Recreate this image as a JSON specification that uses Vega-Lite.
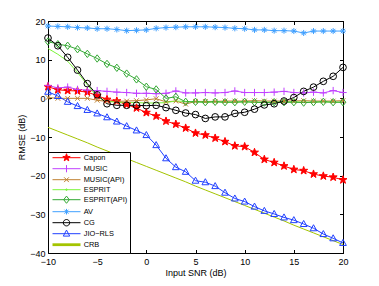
{
"$schema": "https://vega.github.io/schema/vega-lite/v6.json",
"width": 295, "height": 232,
"autosize": {"type": "none"},
"padding": {"left": 48, "top": 21, "right": 36, "bottom": 33},
"background": "white",
"config": {
 "font": "Liberation Sans",
 "view": {"stroke": "black", "strokeWidth": 1},
 "axis": {"grid": false, "domainColor": "black", "domainWidth": 1, "tickColor": "black", "tickSize": -3.5, "tickWidth": 1, "labelColor": "black", "labelFontSize": 9, "labelFont": "Liberation Sans", "titleFont": "Liberation Sans", "titleColor": "black", "titleFontSize": 9, "titleFontWeight": "normal", "labelFlush": false, "labelOverlap": false}
},
"data": {"values": [
{"s":"Capon","x":-10,"y":3.0},{"s":"Capon","x":-9,"y":2.2},{"s":"Capon","x":-8,"y":2.0},{"s":"Capon","x":-7,"y":1.9},{"s":"Capon","x":-6,"y":1.6},{"s":"Capon","x":-5,"y":0.7},{"s":"Capon","x":-4,"y":-0.3},{"s":"Capon","x":-3,"y":-0.7},{"s":"Capon","x":-2,"y":-1.6},{"s":"Capon","x":-1,"y":-2.5},{"s":"Capon","x":0,"y":-3.7},{"s":"Capon","x":1,"y":-4.6},{"s":"Capon","x":2,"y":-5.9},{"s":"Capon","x":3,"y":-6.7},{"s":"Capon","x":4,"y":-7.7},{"s":"Capon","x":5,"y":-9.0},{"s":"Capon","x":6,"y":-9.5},{"s":"Capon","x":7,"y":-10.3},{"s":"Capon","x":8,"y":-11.2},{"s":"Capon","x":9,"y":-12.3},{"s":"Capon","x":10,"y":-12.5},{"s":"Capon","x":11,"y":-14.0},{"s":"Capon","x":12,"y":-15.8},{"s":"Capon","x":13,"y":-16.6},{"s":"Capon","x":14,"y":-17.5},{"s":"Capon","x":15,"y":-18.4},{"s":"Capon","x":16,"y":-18.7},{"s":"Capon","x":17,"y":-19.6},{"s":"Capon","x":18,"y":-20.1},{"s":"Capon","x":19,"y":-20.4},{"s":"Capon","x":20,"y":-21.1},
{"s":"MUSIC","x":-10,"y":3.3},{"s":"MUSIC","x":-9,"y":2.7},{"s":"MUSIC","x":-8,"y":2.9},{"s":"MUSIC","x":-7,"y":2.3},{"s":"MUSIC","x":-6,"y":2.1},{"s":"MUSIC","x":-5,"y":2.0},{"s":"MUSIC","x":-4,"y":1.8},{"s":"MUSIC","x":-3,"y":1.6},{"s":"MUSIC","x":-2,"y":1.5},{"s":"MUSIC","x":-1,"y":1.3},{"s":"MUSIC","x":0,"y":1.3},{"s":"MUSIC","x":1,"y":1.2},{"s":"MUSIC","x":2,"y":1.3},{"s":"MUSIC","x":3,"y":1.9},{"s":"MUSIC","x":4,"y":1.4},{"s":"MUSIC","x":5,"y":1.4},{"s":"MUSIC","x":6,"y":1.5},{"s":"MUSIC","x":7,"y":1.4},{"s":"MUSIC","x":8,"y":1.5},{"s":"MUSIC","x":9,"y":1.9},{"s":"MUSIC","x":10,"y":1.5},{"s":"MUSIC","x":11,"y":1.5},{"s":"MUSIC","x":12,"y":1.5},{"s":"MUSIC","x":13,"y":1.6},{"s":"MUSIC","x":14,"y":1.8},{"s":"MUSIC","x":15,"y":1.5},{"s":"MUSIC","x":16,"y":1.4},{"s":"MUSIC","x":17,"y":1.6},{"s":"MUSIC","x":18,"y":1.4},{"s":"MUSIC","x":19,"y":2.0},{"s":"MUSIC","x":20,"y":1.5},
{"s":"MUSIC(API)","x":-10,"y":0.2},{"s":"MUSIC(API)","x":-9,"y":0.0},{"s":"MUSIC(API)","x":-8,"y":0.0},{"s":"MUSIC(API)","x":-7,"y":0.0},{"s":"MUSIC(API)","x":-6,"y":0.0},{"s":"MUSIC(API)","x":-5,"y":-0.5},{"s":"MUSIC(API)","x":-4,"y":-0.8},{"s":"MUSIC(API)","x":-3,"y":-0.8},{"s":"MUSIC(API)","x":-2,"y":-0.7},{"s":"MUSIC(API)","x":-1,"y":-0.6},{"s":"MUSIC(API)","x":0,"y":-0.4},{"s":"MUSIC(API)","x":1,"y":-0.1},{"s":"MUSIC(API)","x":2,"y":-0.9},{"s":"MUSIC(API)","x":3,"y":-0.7},{"s":"MUSIC(API)","x":4,"y":-1.5},{"s":"MUSIC(API)","x":5,"y":-0.8},{"s":"MUSIC(API)","x":6,"y":-0.8},{"s":"MUSIC(API)","x":7,"y":-0.8},{"s":"MUSIC(API)","x":8,"y":-0.7},{"s":"MUSIC(API)","x":9,"y":-0.7},{"s":"MUSIC(API)","x":10,"y":-0.7},{"s":"MUSIC(API)","x":11,"y":-0.6},{"s":"MUSIC(API)","x":12,"y":-0.7},{"s":"MUSIC(API)","x":13,"y":-0.7},{"s":"MUSIC(API)","x":14,"y":-0.7},{"s":"MUSIC(API)","x":15,"y":-0.7},{"s":"MUSIC(API)","x":16,"y":-0.6},{"s":"MUSIC(API)","x":17,"y":-0.7},{"s":"MUSIC(API)","x":18,"y":-0.7},{"s":"MUSIC(API)","x":19,"y":-0.7},{"s":"MUSIC(API)","x":20,"y":-0.6},
{"s":"ESPRIT","x":-10,"y":12.9},{"s":"ESPRIT","x":-9,"y":11.4},{"s":"ESPRIT","x":-8,"y":9.6},{"s":"ESPRIT","x":-7,"y":6.7},{"s":"ESPRIT","x":-6,"y":3.5},{"s":"ESPRIT","x":-5,"y":0.4},{"s":"ESPRIT","x":-4,"y":-0.8},{"s":"ESPRIT","x":-3,"y":-1.0},{"s":"ESPRIT","x":-2,"y":-1.1},{"s":"ESPRIT","x":-1,"y":-1.1},{"s":"ESPRIT","x":0,"y":-1.2},{"s":"ESPRIT","x":1,"y":-1.2},{"s":"ESPRIT","x":2,"y":-1.1},{"s":"ESPRIT","x":3,"y":-0.7},{"s":"ESPRIT","x":4,"y":-0.8},{"s":"ESPRIT","x":5,"y":-0.9},{"s":"ESPRIT","x":6,"y":-1.0},{"s":"ESPRIT","x":7,"y":-0.9},{"s":"ESPRIT","x":8,"y":-1.0},{"s":"ESPRIT","x":9,"y":-1.0},{"s":"ESPRIT","x":10,"y":-0.9},{"s":"ESPRIT","x":11,"y":-1.0},{"s":"ESPRIT","x":12,"y":-1.0},{"s":"ESPRIT","x":13,"y":-1.0},{"s":"ESPRIT","x":14,"y":-1.0},{"s":"ESPRIT","x":15,"y":-0.9},{"s":"ESPRIT","x":16,"y":-1.0},{"s":"ESPRIT","x":17,"y":-1.0},{"s":"ESPRIT","x":18,"y":-0.9},{"s":"ESPRIT","x":19,"y":-1.0},{"s":"ESPRIT","x":20,"y":-1.0},
{"s":"ESPRIT(API)","x":-10,"y":14.7},{"s":"ESPRIT(API)","x":-9,"y":14.0},{"s":"ESPRIT(API)","x":-8,"y":13.6},{"s":"ESPRIT(API)","x":-7,"y":12.7},{"s":"ESPRIT(API)","x":-6,"y":11.5},{"s":"ESPRIT(API)","x":-5,"y":10.3},{"s":"ESPRIT(API)","x":-4,"y":8.9},{"s":"ESPRIT(API)","x":-3,"y":7.9},{"s":"ESPRIT(API)","x":-2,"y":6.4},{"s":"ESPRIT(API)","x":-1,"y":4.9},{"s":"ESPRIT(API)","x":0,"y":3.0},{"s":"ESPRIT(API)","x":1,"y":2.3},{"s":"ESPRIT(API)","x":2,"y":0.0},{"s":"ESPRIT(API)","x":3,"y":0.4},{"s":"ESPRIT(API)","x":4,"y":-0.9},{"s":"ESPRIT(API)","x":5,"y":-0.9},{"s":"ESPRIT(API)","x":6,"y":-1.0},{"s":"ESPRIT(API)","x":7,"y":-0.9},{"s":"ESPRIT(API)","x":8,"y":-1.0},{"s":"ESPRIT(API)","x":9,"y":-1.0},{"s":"ESPRIT(API)","x":10,"y":-0.9},{"s":"ESPRIT(API)","x":11,"y":-1.0},{"s":"ESPRIT(API)","x":12,"y":-1.1},{"s":"ESPRIT(API)","x":13,"y":-1.0},{"s":"ESPRIT(API)","x":14,"y":-1.0},{"s":"ESPRIT(API)","x":15,"y":-1.0},{"s":"ESPRIT(API)","x":16,"y":-1.1},{"s":"ESPRIT(API)","x":17,"y":-1.0},{"s":"ESPRIT(API)","x":18,"y":-0.9},{"s":"ESPRIT(API)","x":19,"y":-1.0},{"s":"ESPRIT(API)","x":20,"y":-1.0},
{"s":"AV","x":-10,"y":18.7},{"s":"AV","x":-9,"y":18.6},{"s":"AV","x":-8,"y":18.5},{"s":"AV","x":-7,"y":18.3},{"s":"AV","x":-6,"y":18.2},{"s":"AV","x":-5,"y":18.0},{"s":"AV","x":-4,"y":18.0},{"s":"AV","x":-3,"y":17.8},{"s":"AV","x":-2,"y":17.5},{"s":"AV","x":-1,"y":17.6},{"s":"AV","x":0,"y":17.7},{"s":"AV","x":1,"y":18.1},{"s":"AV","x":2,"y":18.3},{"s":"AV","x":3,"y":18.4},{"s":"AV","x":4,"y":18.5},{"s":"AV","x":5,"y":18.5},{"s":"AV","x":6,"y":18.5},{"s":"AV","x":7,"y":18.4},{"s":"AV","x":8,"y":18.3},{"s":"AV","x":9,"y":18.1},{"s":"AV","x":10,"y":18.0},{"s":"AV","x":11,"y":17.7},{"s":"AV","x":12,"y":17.7},{"s":"AV","x":13,"y":17.5},{"s":"AV","x":14,"y":17.5},{"s":"AV","x":15,"y":17.4},{"s":"AV","x":16,"y":16.9},{"s":"AV","x":17,"y":17.4},{"s":"AV","x":18,"y":17.4},{"s":"AV","x":19,"y":17.4},{"s":"AV","x":20,"y":17.4},
{"s":"CG","x":-10,"y":15.6},{"s":"CG","x":-9,"y":13.6},{"s":"CG","x":-8,"y":10.6},{"s":"CG","x":-7,"y":7.3},{"s":"CG","x":-6,"y":3.8},{"s":"CG","x":-5,"y":0.9},{"s":"CG","x":-4,"y":-1.4},{"s":"CG","x":-3,"y":-1.8},{"s":"CG","x":-2,"y":-1.8},{"s":"CG","x":-1,"y":-1.8},{"s":"CG","x":0,"y":-1.9},{"s":"CG","x":1,"y":-1.8},{"s":"CG","x":2,"y":-2.4},{"s":"CG","x":3,"y":-3.1},{"s":"CG","x":4,"y":-3.8},{"s":"CG","x":5,"y":-4.2},{"s":"CG","x":6,"y":-5.2},{"s":"CG","x":7,"y":-4.8},{"s":"CG","x":8,"y":-4.8},{"s":"CG","x":9,"y":-3.9},{"s":"CG","x":10,"y":-3.6},{"s":"CG","x":11,"y":-2.8},{"s":"CG","x":12,"y":-1.7},{"s":"CG","x":13,"y":-1.4},{"s":"CG","x":14,"y":-0.7},{"s":"CG","x":15,"y":0.2},{"s":"CG","x":16,"y":1.8},{"s":"CG","x":17,"y":2.9},{"s":"CG","x":18,"y":4.4},{"s":"CG","x":19,"y":5.7},{"s":"CG","x":20,"y":8.0},
{"s":"JIO−RLS","x":-10,"y":1.7},{"s":"JIO−RLS","x":-9,"y":0.6},{"s":"JIO−RLS","x":-8,"y":-0.9},{"s":"JIO−RLS","x":-7,"y":-2.0},{"s":"JIO−RLS","x":-6,"y":-3.0},{"s":"JIO−RLS","x":-5,"y":-3.9},{"s":"JIO−RLS","x":-4,"y":-4.9},{"s":"JIO−RLS","x":-3,"y":-6.0},{"s":"JIO−RLS","x":-2,"y":-7.2},{"s":"JIO−RLS","x":-1,"y":-8.3},{"s":"JIO−RLS","x":0,"y":-9.5},{"s":"JIO−RLS","x":1,"y":-12.1},{"s":"JIO−RLS","x":2,"y":-15.5},{"s":"JIO−RLS","x":3,"y":-17.8},{"s":"JIO−RLS","x":4,"y":-19.0},{"s":"JIO−RLS","x":5,"y":-21.3},{"s":"JIO−RLS","x":6,"y":-21.7},{"s":"JIO−RLS","x":7,"y":-22.7},{"s":"JIO−RLS","x":8,"y":-24.4},{"s":"JIO−RLS","x":9,"y":-25.9},{"s":"JIO−RLS","x":10,"y":-26.7},{"s":"JIO−RLS","x":11,"y":-28.0},{"s":"JIO−RLS","x":12,"y":-29.1},{"s":"JIO−RLS","x":13,"y":-29.9},{"s":"JIO−RLS","x":14,"y":-30.8},{"s":"JIO−RLS","x":15,"y":-31.5},{"s":"JIO−RLS","x":16,"y":-32.5},{"s":"JIO−RLS","x":17,"y":-33.6},{"s":"JIO−RLS","x":18,"y":-35.1},{"s":"JIO−RLS","x":19,"y":-36.2},{"s":"JIO−RLS","x":20,"y":-37.4},
{"s":"CRB","x":-10,"y":-7.5},{"s":"CRB","x":-9,"y":-8.5},{"s":"CRB","x":-8,"y":-9.5},{"s":"CRB","x":-7,"y":-10.5},{"s":"CRB","x":-6,"y":-11.5},{"s":"CRB","x":-5,"y":-12.6},{"s":"CRB","x":-4,"y":-13.6},{"s":"CRB","x":-3,"y":-14.6},{"s":"CRB","x":-2,"y":-15.6},{"s":"CRB","x":-1,"y":-16.6},{"s":"CRB","x":0,"y":-17.6},{"s":"CRB","x":1,"y":-18.6},{"s":"CRB","x":2,"y":-19.6},{"s":"CRB","x":3,"y":-20.6},{"s":"CRB","x":4,"y":-21.6},{"s":"CRB","x":5,"y":-22.7},{"s":"CRB","x":6,"y":-23.7},{"s":"CRB","x":7,"y":-24.7},{"s":"CRB","x":8,"y":-25.7},{"s":"CRB","x":9,"y":-26.7},{"s":"CRB","x":10,"y":-27.7},{"s":"CRB","x":11,"y":-28.7},{"s":"CRB","x":12,"y":-29.7},{"s":"CRB","x":13,"y":-30.7},{"s":"CRB","x":14,"y":-31.7},{"s":"CRB","x":15,"y":-32.8},{"s":"CRB","x":16,"y":-33.8},{"s":"CRB","x":17,"y":-34.8},{"s":"CRB","x":18,"y":-35.8},{"s":"CRB","x":19,"y":-36.8},{"s":"CRB","x":20,"y":-37.8}
]},
"layer": [
 {
  "mark": {"type": "line", "strokeWidth": 1},
  "encoding": {
   "x": {"field": "x", "type": "quantitative", "scale": {"domain": [-10, 20], "nice": false, "zero": false},
         "axis": {"orient": "bottom", "values": [-10, -5, 0, 5, 10, 15, 20], "title": "Input SNR (dB)", "labelPadding": 7.5, "titlePadding": 2}},
   "y": {"field": "y", "type": "quantitative", "scale": {"domain": [-40, 20], "nice": false, "zero": false},
         "axis": {"orient": "left", "values": [-40, -30, -20, -10, 0, 10, 20], "title": "RMSE (dB)", "labelPadding": 6.5, "titlePadding": 3}},
   "color": {"field": "s", "type": "nominal",
     "scale": {"domain": ["Capon", "MUSIC", "MUSIC(API)", "ESPRIT", "ESPRIT(API)", "AV", "CG", "JIO−RLS", "CRB"],
               "range": ["#ff0000", "#c040ff", "#bf8030", "#7cf53a", "#33a833", "#40a0ff", "#000000", "#2040ff", "#a4c400"]},
     "legend": {"orient": "bottom-left", "offset": 0, "title": null, "strokeColor": "#000000", "fillColor": "white",
       "padding": 2, "rowPadding": 0, "symbolSize": 64, "symbolStrokeWidth": 1, "labelFontSize": 7.4, "labelFont": "Liberation Sans", "labelColor": "black", "labelOffset": 26.3,
       "encode": {"symbols": {"update": {
         "shape": {"signal": "datum.value==='Capon'?'M-0.3,0H6.7M3.2,-1L3.44,-0.32L4.12,-0.3L3.56,0.12L3.77,0.77L3.2,0.4L2.63,0.77L2.84,0.12L2.28,-0.3L2.96,-0.32Z':datum.value==='MUSIC'?'M-0.3,0H6.7M3.2,-0.9V0.9':datum.value==='MUSIC(API)'?'M-0.3,0H6.7M2.6,-0.6L3.8,0.6M2.6,0.6L3.8,-0.6':datum.value==='ESPRIT'?'M-0.3,0H6.7M3,0A0.2,0.2 0 1 1 3.4,0A0.2,0.2 0 1 1 3,0':datum.value==='ESPRIT(API)'?'M-0.3,0H6.7M3.2,-0.9L3.9,0L3.2,0.9L2.5,0Z':datum.value==='AV'?'M-0.3,0H6.7M3.2,-0.7V0.7M2.7,-0.5L3.7,0.5M2.7,0.5L3.7,-0.5':datum.value==='CG'?'M-0.3,0H6.7M2.4,0A0.8,0.8 0 1 1 4,0A0.8,0.8 0 1 1 2.4,0':datum.value==='CRB'?'M-0.3,0H6.7':'M-0.3,0H6.7M3.2,-0.9L4,0.6L2.4,0.6Z'"},
         "fill": {"signal": "datum.value==='Capon'?'#ff0000':'transparent'"},
         "strokeWidth": {"signal": "datum.value==='CRB'?2.8:1"}
       }}}}
   },
   "strokeWidth": {"condition": {"test": "datum.s==='CRB'", "value": 2.8}, "value": 1}
  }
 },
 {
  "transform": [{"filter": "datum.s !== 'ESPRIT' && datum.s !== 'CRB'"}],
  "mark": {"type": "point", "filled": false, "size": 45, "strokeWidth": 1, "opacity": 1},
  "encoding": {
   "x": {"field": "x", "type": "quantitative", "scale": {"domain": [-10, 20], "nice": false, "zero": false}, "axis": null},
   "y": {"field": "y", "type": "quantitative", "scale": {"domain": [-40, 20], "nice": false, "zero": false}, "axis": null},
   "color": {"field": "s", "type": "nominal", "legend": null},
   "shape": {"field": "s", "type": "nominal", "legend": null,
     "scale": {"domain": ["Capon", "MUSIC", "MUSIC(API)", "ESPRIT(API)", "AV", "CG", "JIO−RLS"],
               "range": ["M0,-1.25L0.29,-0.4L1.19,-0.39L0.48,0.15L0.74,1.01L0,0.5L-0.74,1.01L-0.48,0.15L-1.19,-0.39L-0.29,-0.4Z",
                         "M-1.1,0H1.1M0,-1.1V1.1",
                         "M-0.7,-0.7L0.7,0.7M-0.7,0.7L0.7,-0.7",
                         "M0,-1.1L0.85,0L0,1.1L-0.85,0Z",
                         "M-0.9,0H0.9M0,-0.9V0.9M-0.65,-0.65L0.65,0.65M-0.65,0.65L0.65,-0.65",
                         "circle",
                         "M0,-1.05L1,0.75L-1,0.75Z"]}},
   "fill": {"condition": {"test": "datum.s==='Capon'", "value": "#ff0000"}, "value": "transparent"}
  }
 },
 {
  "mark": {"type": "point", "opacity": 0},
  "encoding": {
   "x": {"field": "x", "type": "quantitative", "scale": {"domain": [-10, 20], "nice": false, "zero": false},
         "axis": {"orient": "top", "values": [-10, -5, 0, 5, 10, 15, 20], "labels": false, "title": null}},
   "y": {"field": "y", "type": "quantitative", "scale": {"domain": [-40, 20], "nice": false, "zero": false},
         "axis": {"orient": "right", "values": [-40, -30, -20, -10, 0, 10, 20], "labels": false, "title": null}}
  }
 }
]
}
